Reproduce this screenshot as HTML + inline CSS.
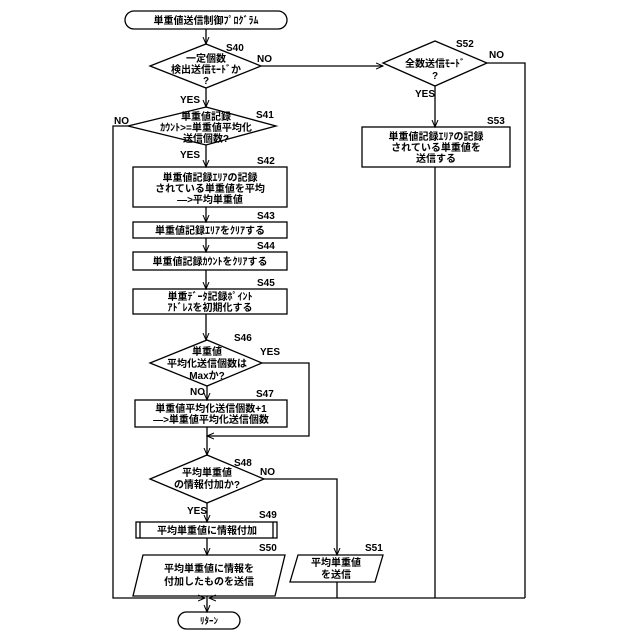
<!DOCTYPE html><html><head><meta charset="utf-8"><style>body{margin:0;background:#fff}svg{display:block}text{font-family:"Liberation Sans","Noto Sans CJK JP",sans-serif;font-size:10px;fill:#000;font-weight:bold}</style></head><body>
<svg width="640" height="640" viewBox="0 0 640 640">
<defs><marker id="a" markerWidth="8" markerHeight="8" refX="7" refY="4" orient="auto" markerUnits="userSpaceOnUse"><path d="M0,1 L7,4 L0,7" fill="none" stroke="#000"/></marker></defs>
<g fill="none" stroke="#000" stroke-width="1.3">
<rect x="125" y="11" width="162" height="18" rx="9"/>
<path d="M206 29 V44" marker-end="url(#a)"/>
<polygon points="206,44 261,66 206,88 150,66"/>
<path d="M261 66 H383" marker-end="url(#a)"/>
<path d="M206 88 V107" marker-end="url(#a)"/>
<polygon points="206,107 276,126 206,145 128,126"/>
<path d="M206 145 V167" marker-end="url(#a)"/>
<rect x="133" y="167" width="154" height="40"/>
<path d="M206 207 V222" marker-end="url(#a)"/>
<rect x="133" y="222" width="154" height="16"/>
<path d="M206 238 V252" marker-end="url(#a)"/>
<rect x="133" y="252" width="154" height="18"/>
<path d="M206 270 V289" marker-end="url(#a)"/>
<rect x="133" y="289" width="154" height="25"/>
<path d="M206 314 V340" marker-end="url(#a)"/>
<polygon points="207,340 262,363 207,386 150,363"/>
<path d="M207 386 V400" marker-end="url(#a)"/>
<rect x="135" y="400" width="152" height="27"/>
<path d="M262 363 H309 V436 H207" marker-end="url(#a)"/>
<path d="M207 427 V455" marker-end="url(#a)"/>
<polygon points="207,455 264,479 207,503 150,479"/>
<path d="M264 479 H337 V555" marker-end="url(#a)"/>
<path d="M207 503 V522" marker-end="url(#a)"/>
<rect x="136" y="522" width="141" height="16"/><path d="M140 522 V538 M273 522 V538"/>
<path d="M207 538 V555" marker-end="url(#a)"/>
<polygon points="143,555 285,555 275,596 133,596"/>
<polygon points="298,555 383,555 375,582 290,582"/>
<path d="M207 596 V612" marker-end="url(#a)"/>
<path d="M128 126 H113 V598 H205" marker-end="url(#a)"/>
<path d="M525 598 H209" marker-end="url(#a)"/>
<path d="M337 582 V598 M435 167 V598"/>
<polygon points="435,41 487,63 435,86 383,63"/>
<path d="M487 63 H525 V598"/>
<path d="M435 86 V127" marker-end="url(#a)"/>
<rect x="362" y="127" width="148" height="40"/>
<rect x="178" y="612" width="62" height="17" rx="8.5"/>
</g>
<g text-anchor="middle">
<text x="206" y="24">単重値送信制御ﾌﾟﾛｸﾞﾗﾑ</text>
<text x="206" y="62">一定個数</text><text x="206" y="73">検出送信ﾓｰﾄﾞか</text><text x="206" y="84">?</text>
<text x="206" y="120">単重値記録</text><text x="206" y="131">ｶｳﾝﾄ&gt;=単重値平均化</text><text x="206" y="142">送信個数?</text>
<text x="210" y="181">単重値記録ｴﾘｱの記録</text><text x="210" y="192">されている単重値を平均</text><text x="210" y="203">—&gt;平均単重値</text>
<text x="210" y="234">単重値記録ｴﾘｱをｸﾘｱする</text>
<text x="210" y="265">単重値記録ｶｳﾝﾄをｸﾘｱする</text>
<text x="210" y="300">単重ﾃﾞｰﾀ記録ﾎﾟｲﾝﾄ</text><text x="210" y="311">ｱﾄﾞﾚｽを初期化する</text>
<text x="207" y="355">単重値</text><text x="207" y="367">平均化送信個数は</text><text x="207" y="379">Maxか?</text>
<text x="211" y="412">単重値平均化送信個数+1</text><text x="211" y="423">—&gt;単重値平均化送信個数</text>
<text x="207" y="476">平均単重値</text><text x="207" y="488">の情報付加か?</text>
<text x="207" y="534">平均単重値に情報付加</text>
<text x="209" y="572">平均単重値に情報を</text><text x="209" y="585">付加したものを送信</text>
<text x="336" y="566">平均単重値</text><text x="336" y="578">を送信</text>
<text x="435" y="67">全数送信ﾓｰﾄﾞ</text><text x="435" y="79">?</text>
<text x="436" y="140">単重値記録ｴﾘｱの記録</text><text x="436" y="151">されている単重値を</text><text x="436" y="162">送信する</text>
<text x="209" y="624" style="font-size:9px">ﾘﾀｰﾝ</text>
</g>
<g style="font-size:10px">
<text x="226" y="51">S40</text><text x="257" y="62">NO</text><text x="180" y="103">YES</text>
<text x="256" y="118">S41</text><text x="114" y="124">NO</text><text x="180" y="158">YES</text>
<text x="257" y="164">S42</text><text x="257" y="219">S43</text><text x="257" y="249">S44</text><text x="257" y="286">S45</text>
<text x="234" y="341">S46</text><text x="260" y="355">YES</text><text x="190" y="395">NO</text>
<text x="256" y="397">S47</text><text x="234" y="466">S48</text><text x="260" y="475">NO</text>
<text x="187" y="514">YES</text><text x="259" y="518">S49</text><text x="259" y="551">S50</text><text x="365" y="551">S51</text>
<text x="456" y="47">S52</text><text x="489" y="58">NO</text><text x="415" y="97">YES</text><text x="487" y="124">S53</text>
</g>
</svg></body></html>
